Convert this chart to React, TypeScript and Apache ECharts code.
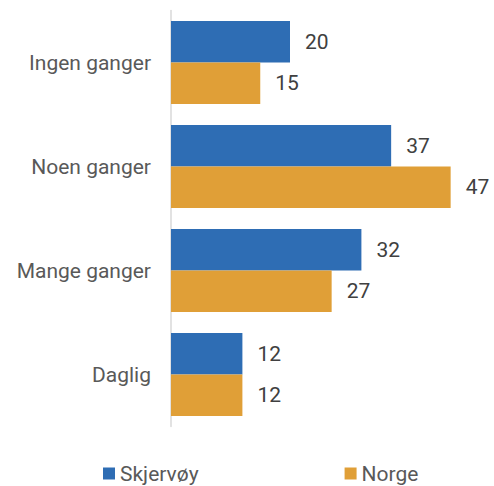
import React, { useEffect, useRef } from "react";
import * as echarts from "echarts";

// Category labels, top to bottom
const categories = ["Ingen ganger", "Noen ganger", "Mange ganger", "Daglig"];
// Percent per category
const skjervoy = [20, 37, 32, 12];
const norge = [15, 47, 27, 12];

const FONT = "Roboto, 'Noto Sans', sans-serif";

export default function App() {
  const ref = useRef<HTMLDivElement>(null);

  useEffect(() => {
    if (!ref.current) return;
    const chart = echarts.init(ref.current, undefined, { renderer: "svg" });
    const label = {
      show: true,
      position: "right" as const,
      distance: 15,
      color: "#404040",
      fontSize: 21,
      fontFamily: FONT,
    };
    chart.setOption({
      animation: false,
      textStyle: { fontFamily: FONT },
      grid: { left: 171, right: 25.5, top: 10.5, bottom: 59.5, containLabel: false },
      legend: {
        data: ["Skjervøy", "Norge"],
        left: 103,
        top: 463,
        padding: 0,
        icon: "rect",
        itemWidth: 12,
        itemHeight: 12,
        itemGap: 146,
        itemTextGap: 5,
        textStyle: { color: "#595959", fontSize: 21, fontFamily: FONT },
      },
      xAxis: {
        type: "value",
        min: 0,
        max: 50,
        show: false,
        splitLine: { show: false },
      },
      yAxis: {
        type: "category",
        data: categories,
        inverse: true,
        axisLine: { show: true, lineStyle: { color: "#d9d9d9", width: 1.5 } },
        axisTick: { show: false },
        axisLabel: { color: "#595959", fontSize: 21, fontFamily: FONT, margin: 20 },
      },
      series: [
        {
          name: "Skjervøy",
          type: "bar",
          data: skjervoy,
          itemStyle: { color: "#2E6DB4" },
          barGap: "0%",
          barCategoryGap: "20%",
          label,
        },
        {
          name: "Norge",
          type: "bar",
          data: norge,
          itemStyle: { color: "#E09F37" },
          barGap: "0%",
          barCategoryGap: "20%",
          label,
        },
      ],
    });
    return () => chart.dispose();
  }, []);

  return (
    <div
      ref={ref}
      style={{ position: "absolute", left: 0, top: 0, width: 494, height: 486 }}
    />
  );
}
